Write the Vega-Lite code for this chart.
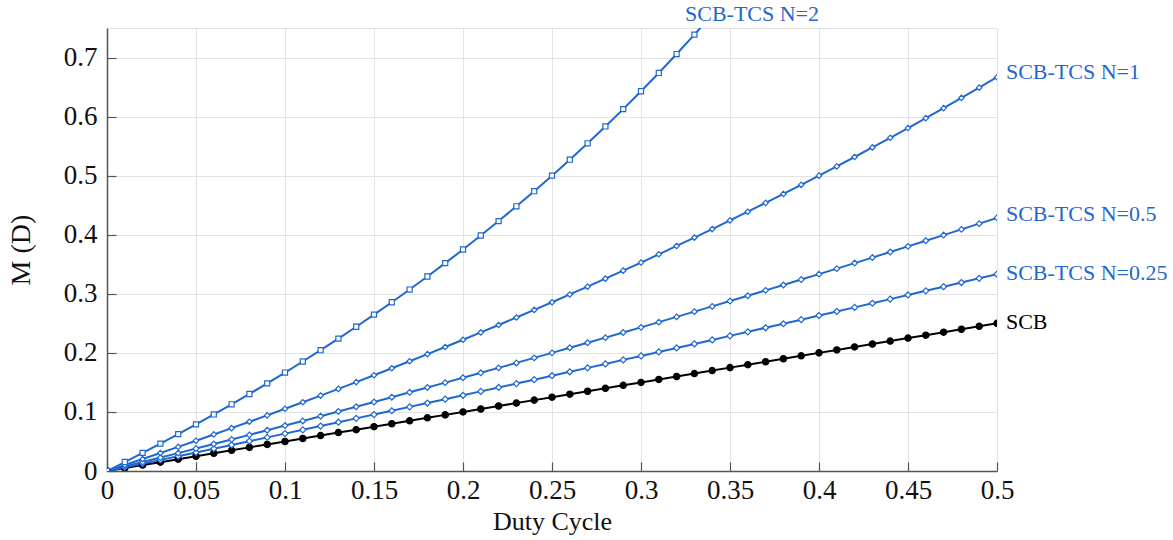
{
  "$schema": "https://vega.github.io/schema/vega-lite/v6.json",
  "width": 890,
  "height": 443,
  "autosize": {"type": "none"},
  "padding": {"left": 107, "top": 28, "right": 176, "bottom": 69},
  "background": "white",
  "config": {
    "view": {"stroke": "#e3e3e3", "strokeWidth": 1},
    "font": "Liberation Serif",
    "axis": {
      "domainColor": "#555555",
      "domainWidth": 1.5,
      "tickColor": "#555555",
      "tickWidth": 1.2,
      "tickSize": -9,
      "gridColor": "#e3e3e3",
      "gridWidth": 1,
      "labelFlush": false,
      "labelFont": "Liberation Serif",
      "labelFontSize": 27,
      "labelColor": "#111111",
      "titleFont": "Liberation Serif",
      "titleFontSize": 26,
      "titleFontWeight": "normal",
      "titleColor": "#111111"
    }
  },
  "datasets": {
    "curves": [
      {"D": 0, "SCB": 0, "N025": 0, "N05": 0, "N1": 0, "N2": 0},
      {"D": 0.01, "SCB": 0.005, "N025": 0.0063, "N05": 0.0075, "N1": 0.0101, "N2": 0.0152},
      {"D": 0.02, "SCB": 0.01, "N025": 0.0125, "N05": 0.0151, "N1": 0.0202, "N2": 0.0306},
      {"D": 0.03, "SCB": 0.015, "N025": 0.0188, "N05": 0.0227, "N1": 0.0305, "N2": 0.0464},
      {"D": 0.04, "SCB": 0.02, "N025": 0.0251, "N05": 0.0303, "N1": 0.0408, "N2": 0.0625},
      {"D": 0.05, "SCB": 0.025, "N025": 0.0314, "N05": 0.038, "N1": 0.0513, "N2": 0.0789},
      {"D": 0.06, "SCB": 0.03, "N025": 0.0378, "N05": 0.0457, "N1": 0.0619, "N2": 0.0957},
      {"D": 0.07, "SCB": 0.035, "N025": 0.0441, "N05": 0.0534, "N1": 0.0725, "N2": 0.1129},
      {"D": 0.08, "SCB": 0.04, "N025": 0.0505, "N05": 0.0612, "N1": 0.0833, "N2": 0.1304},
      {"D": 0.09, "SCB": 0.045, "N025": 0.0569, "N05": 0.0691, "N1": 0.0942, "N2": 0.1484},
      {"D": 0.1, "SCB": 0.05, "N025": 0.0633, "N05": 0.0769, "N1": 0.1053, "N2": 0.1667},
      {"D": 0.11, "SCB": 0.055, "N025": 0.0697, "N05": 0.0848, "N1": 0.1164, "N2": 0.1854},
      {"D": 0.12, "SCB": 0.06, "N025": 0.0761, "N05": 0.0928, "N1": 0.1277, "N2": 0.2045},
      {"D": 0.13, "SCB": 0.065, "N025": 0.0826, "N05": 0.1008, "N1": 0.139, "N2": 0.2241},
      {"D": 0.14, "SCB": 0.07, "N025": 0.0891, "N05": 0.1088, "N1": 0.1505, "N2": 0.2442},
      {"D": 0.15, "SCB": 0.075, "N025": 0.0955, "N05": 0.1169, "N1": 0.1622, "N2": 0.2647},
      {"D": 0.16, "SCB": 0.08, "N025": 0.102, "N05": 0.125, "N1": 0.1739, "N2": 0.2857},
      {"D": 0.17, "SCB": 0.085, "N025": 0.1086, "N05": 0.1332, "N1": 0.1858, "N2": 0.3072},
      {"D": 0.18, "SCB": 0.09, "N025": 0.1151, "N05": 0.1414, "N1": 0.1978, "N2": 0.3293},
      {"D": 0.19, "SCB": 0.095, "N025": 0.1216, "N05": 0.1496, "N1": 0.2099, "N2": 0.3519},
      {"D": 0.2, "SCB": 0.1, "N025": 0.1282, "N05": 0.1579, "N1": 0.2222, "N2": 0.375},
      {"D": 0.21, "SCB": 0.105, "N025": 0.1348, "N05": 0.1662, "N1": 0.2346, "N2": 0.3987},
      {"D": 0.22, "SCB": 0.11, "N025": 0.1414, "N05": 0.1746, "N1": 0.2472, "N2": 0.4231},
      {"D": 0.23, "SCB": 0.115, "N025": 0.148, "N05": 0.183, "N1": 0.2599, "N2": 0.4481},
      {"D": 0.24, "SCB": 0.12, "N025": 0.1546, "N05": 0.1915, "N1": 0.2727, "N2": 0.4737},
      {"D": 0.25, "SCB": 0.125, "N025": 0.1613, "N05": 0.2, "N1": 0.2857, "N2": 0.5},
      {"D": 0.26, "SCB": 0.13, "N025": 0.168, "N05": 0.2086, "N1": 0.2989, "N2": 0.527},
      {"D": 0.27, "SCB": 0.135, "N025": 0.1746, "N05": 0.2172, "N1": 0.3121, "N2": 0.5548},
      {"D": 0.28, "SCB": 0.14, "N025": 0.1813, "N05": 0.2258, "N1": 0.3256, "N2": 0.5833},
      {"D": 0.29, "SCB": 0.145, "N025": 0.1881, "N05": 0.2345, "N1": 0.3392, "N2": 0.6127},
      {"D": 0.3, "SCB": 0.15, "N025": 0.1948, "N05": 0.2432, "N1": 0.3529, "N2": 0.6429},
      {"D": 0.31, "SCB": 0.155, "N025": 0.2016, "N05": 0.252, "N1": 0.3669, "N2": 0.6739},
      {"D": 0.32, "SCB": 0.16, "N025": 0.2083, "N05": 0.2609, "N1": 0.381, "N2": 0.7059},
      {"D": 0.33, "SCB": 0.165, "N025": 0.2151, "N05": 0.2698, "N1": 0.3952, "N2": 0.7388},
      {"D": 0.34, "SCB": 0.17, "N025": 0.2219, "N05": 0.2787, "N1": 0.4096, "N2": 0.7727},
      {"D": 0.35, "SCB": 0.175, "N025": 0.2288, "N05": 0.2877, "N1": 0.4242},
      {"D": 0.36, "SCB": 0.18, "N025": 0.2356, "N05": 0.2967, "N1": 0.439},
      {"D": 0.37, "SCB": 0.185, "N025": 0.2425, "N05": 0.3058, "N1": 0.454},
      {"D": 0.38, "SCB": 0.19, "N025": 0.2493, "N05": 0.3149, "N1": 0.4691},
      {"D": 0.39, "SCB": 0.195, "N025": 0.2562, "N05": 0.3241, "N1": 0.4845},
      {"D": 0.4, "SCB": 0.2, "N025": 0.2632, "N05": 0.3333, "N1": 0.5},
      {"D": 0.41, "SCB": 0.205, "N025": 0.2701, "N05": 0.3426, "N1": 0.5157},
      {"D": 0.42, "SCB": 0.21, "N025": 0.277, "N05": 0.352, "N1": 0.5316},
      {"D": 0.43, "SCB": 0.215, "N025": 0.284, "N05": 0.3613, "N1": 0.5478},
      {"D": 0.44, "SCB": 0.22, "N025": 0.291, "N05": 0.3708, "N1": 0.5641},
      {"D": 0.45, "SCB": 0.225, "N025": 0.298, "N05": 0.3803, "N1": 0.5806},
      {"D": 0.46, "SCB": 0.23, "N025": 0.305, "N05": 0.3898, "N1": 0.5974},
      {"D": 0.47, "SCB": 0.235, "N025": 0.3121, "N05": 0.3994, "N1": 0.6144},
      {"D": 0.48, "SCB": 0.24, "N025": 0.3191, "N05": 0.4091, "N1": 0.6316},
      {"D": 0.49, "SCB": 0.245, "N025": 0.3262, "N05": 0.4188, "N1": 0.649},
      {"D": 0.5, "SCB": 0.25, "N025": 0.3333, "N05": 0.4286, "N1": 0.6667}
    ],
    "labels": [
      {"s": "N2", "label": "SCB-TCS N=2", "D": 0.3247, "M": 0.7742},
      {"s": "N1", "label": "SCB-TCS N=1", "D": 0.505, "M": 0.6757},
      {"s": "N05", "label": "SCB-TCS N=0.5", "D": 0.505, "M": 0.4346},
      {"s": "N025", "label": "SCB-TCS N=0.25", "D": 0.505, "M": 0.3345},
      {"s": "SCB", "label": "SCB", "D": 0.505, "M": 0.2518}
    ]
  },
  "layer": [
    {
      "data": {"name": "curves"},
      "transform": [
        {"fold": ["SCB", "N025", "N05", "N1", "N2"], "as": ["s", "M"]},
        {"filter": "isValid(datum.M)"}
      ],
      "mark": {"type": "line", "strokeWidth": 2, "clip": true},
      "encoding": {
        "x": {
          "field": "D", "type": "quantitative",
          "scale": {"domain": [0, 0.5], "nice": false},
          "axis": {"values": [0, 0.05, 0.1, 0.15, 0.2, 0.25, 0.3, 0.35, 0.4, 0.45, 0.5], "format": "~g", "title": "Duty Cycle", "labelPadding": 15, "titlePadding": 5}
        },
        "y": {
          "field": "M", "type": "quantitative",
          "scale": {"domain": [0, 0.75], "nice": false},
          "axis": {"values": [0, 0.1, 0.2, 0.3, 0.4, 0.5, 0.6, 0.7], "format": "~g", "title": "M (D)", "labelPadding": 19, "titlePadding": 28, "titleFontSize": 28}
        },
        "stroke": {
          "field": "s", "type": "nominal",
          "scale": {"domain": ["N2", "N1", "N05", "N025", "SCB"], "range": ["#1f67d1", "#1f67d1", "#1f67d1", "#1f67d1", "#000000"]},
          "legend": null
        },
        "detail": {"field": "s"}
      }
    },
    {
      "data": {"name": "curves"},
      "transform": [
        {"fold": ["SCB", "N025", "N05", "N1", "N2"], "as": ["s", "M"]},
        {"filter": "isValid(datum.M)"}
      ],
      "mark": {"type": "point", "filled": true, "strokeWidth": 1.2, "clip": true, "opacity": 1},
      "encoding": {
        "x": {"field": "D", "type": "quantitative"},
        "y": {"field": "M", "type": "quantitative"},
        "stroke": {"field": "s", "type": "nominal", "legend": null},
        "fill": {
          "field": "s", "type": "nominal",
          "scale": {"domain": ["N2", "N1", "N05", "N025", "SCB"], "range": ["#ffffff", "#ffffff", "#ffffff", "#ffffff", "#000000"]},
          "legend": null
        },
        "shape": {
          "field": "s", "type": "nominal",
          "scale": {"domain": ["N2", "N1", "N05", "N025", "SCB"], "range": ["square", "diamond", "diamond", "diamond", "circle"]},
          "legend": null
        },
        "size": {
          "field": "s", "type": "nominal",
          "scale": {"domain": ["N2", "N1", "N05", "N025", "SCB"], "range": [26, 40, 40, 40, 18]},
          "legend": null
        }
      }
    },
    {
      "data": {"name": "labels"},
      "mark": {"type": "text", "align": "left", "baseline": "middle", "fontSize": 22, "font": "Liberation Serif", "clip": false},
      "encoding": {
        "x": {"field": "D", "type": "quantitative"},
        "y": {"field": "M", "type": "quantitative"},
        "text": {"field": "label"},
        "color": {
          "field": "s", "type": "nominal",
          "scale": {"domain": ["N2", "N1", "N05", "N025", "SCB"], "range": ["#1f67d1", "#1f67d1", "#1f67d1", "#1f67d1", "#000000"]},
          "legend": null
        }
      }
    }
  ]
}
